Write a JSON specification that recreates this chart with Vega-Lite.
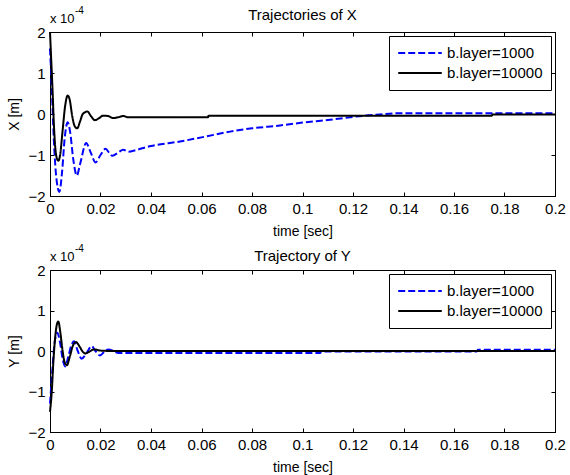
{
  "$schema": "https://vega.github.io/schema/vega-lite/v6.json",
  "padding": {"left": 7, "top": 5, "right": 5, "bottom": 2},
  "config": {
    "font": "Liberation Sans",
    "view": {"stroke": "black", "strokeWidth": 1},
    "axis": {"grid": false, "domainColor": "black", "tickColor": "black", "tickSize": -4, "labelFontSize": 15, "labelColor": "black", "titleFontSize": 14, "titleFontWeight": "normal", "titleColor": "black", "labelPadding": 9, "labelFlush": false, "labelOverlap": false},
    "axisX": {"titlePadding": 8},
    "axisY": {"titlePadding": 6},
    "title": {"fontSize": 15, "fontWeight": "normal", "color": "black", "frame": "group", "offset": -20},
    "legend": {"orient": "top-right", "offset": 4, "strokeColor": "black", "fillColor": "white", "padding": 8, "symbolType": "stroke", "symbolSize": 1900, "symbolStrokeWidth": 2, "labelFontSize": 15, "labelColor": "black", "labelOffset": 4, "clipHeight": 18, "rowPadding": 2, "cornerRadius": 0}
  },
  "datasets": {
    "X": [
      {"s":"b.layer=1000","t":0,"v":1.6},{"s":"b.layer=1000","t":0.0008,"v":0.5},{"s":"b.layer=1000","t":0.0015,"v":-0.6},{"s":"b.layer=1000","t":0.0025,"v":-1.55},{"s":"b.layer=1000","t":0.0037,"v":-1.9},{"s":"b.layer=1000","t":0.0048,"v":-1.4},{"s":"b.layer=1000","t":0.0058,"v":-0.6},{"s":"b.layer=1000","t":0.007,"v":-0.2},{"s":"b.layer=1000","t":0.008,"v":-0.45},{"s":"b.layer=1000","t":0.0092,"v":-1.1},{"s":"b.layer=1000","t":0.0106,"v":-1.5},{"s":"b.layer=1000","t":0.012,"v":-1.2},{"s":"b.layer=1000","t":0.0143,"v":-0.71},{"s":"b.layer=1000","t":0.0162,"v":-0.95},{"s":"b.layer=1000","t":0.018,"v":-1.18},{"s":"b.layer=1000","t":0.02,"v":-1.0},{"s":"b.layer=1000","t":0.022,"v":-0.85},{"s":"b.layer=1000","t":0.0235,"v":-0.95},{"s":"b.layer=1000","t":0.0247,"v":-1.02},{"s":"b.layer=1000","t":0.027,"v":-0.94},{"s":"b.layer=1000","t":0.029,"v":-0.87},{"s":"b.layer=1000","t":0.031,"v":-0.92},{"s":"b.layer=1000","t":0.034,"v":-0.88},{"s":"b.layer=1000","t":0.04,"v":-0.78},{"s":"b.layer=1000","t":0.0515,"v":-0.67},{"s":"b.layer=1000","t":0.06,"v":-0.57},{"s":"b.layer=1000","t":0.0713,"v":-0.43},{"s":"b.layer=1000","t":0.08,"v":-0.35},{"s":"b.layer=1000","t":0.0911,"v":-0.28},{"s":"b.layer=1000","t":0.1,"v":-0.21},{"s":"b.layer=1000","t":0.1109,"v":-0.14},{"s":"b.layer=1000","t":0.12,"v":-0.07},{"s":"b.layer=1000","t":0.1307,"v":-0.01},{"s":"b.layer=1000","t":0.139,"v":0.02},{"s":"b.layer=1000","t":0.2,"v":0.02},
      {"s":"b.layer=10000","t":0,"v":2.0},{"s":"b.layer=10000","t":0.0005,"v":1.3},{"s":"b.layer=10000","t":0.001,"v":0.6},{"s":"b.layer=10000","t":0.0015,"v":-0.2},{"s":"b.layer=10000","t":0.002,"v":-0.75},{"s":"b.layer=10000","t":0.0027,"v":-1.08},{"s":"b.layer=10000","t":0.0033,"v":-1.14},{"s":"b.layer=10000","t":0.004,"v":-1.0},{"s":"b.layer=10000","t":0.005,"v":-0.4},{"s":"b.layer=10000","t":0.006,"v":0.2},{"s":"b.layer=10000","t":0.007,"v":0.45},{"s":"b.layer=10000","t":0.0078,"v":0.35},{"s":"b.layer=10000","t":0.0088,"v":-0.05},{"s":"b.layer=10000","t":0.0098,"v":-0.3},{"s":"b.layer=10000","t":0.0108,"v":-0.35},{"s":"b.layer=10000","t":0.0118,"v":-0.2},{"s":"b.layer=10000","t":0.013,"v":0.0},{"s":"b.layer=10000","t":0.0148,"v":0.06},{"s":"b.layer=10000","t":0.0163,"v":-0.06},{"s":"b.layer=10000","t":0.0178,"v":-0.15},{"s":"b.layer=10000","t":0.0195,"v":-0.1},{"s":"b.layer=10000","t":0.021,"v":-0.04},{"s":"b.layer=10000","t":0.023,"v":-0.05},{"s":"b.layer=10000","t":0.025,"v":-0.1},{"s":"b.layer=10000","t":0.027,"v":-0.08},{"s":"b.layer=10000","t":0.029,"v":-0.05},{"s":"b.layer=10000","t":0.031,"v":-0.08},{"s":"b.layer=10000","t":0.0626,"v":-0.08},{"s":"b.layer=10000","t":0.0628,"v":-0.04},{"s":"b.layer=10000","t":0.175,"v":-0.04},{"s":"b.layer=10000","t":0.1752,"v":-0.01},{"s":"b.layer=10000","t":0.2,"v":-0.01}
    ],
    "Y": [
      {"s":"b.layer=1000","t":0,"v":-1.3},{"s":"b.layer=1000","t":0.0008,"v":-0.6},{"s":"b.layer=1000","t":0.0018,"v":0.2},{"s":"b.layer=1000","t":0.0029,"v":0.45},{"s":"b.layer=1000","t":0.004,"v":0.2},{"s":"b.layer=1000","t":0.005,"v":-0.2},{"s":"b.layer=1000","t":0.006,"v":-0.38},{"s":"b.layer=1000","t":0.0072,"v":-0.15},{"s":"b.layer=1000","t":0.0085,"v":0.15},{"s":"b.layer=1000","t":0.0095,"v":0.24},{"s":"b.layer=1000","t":0.011,"v":0.0},{"s":"b.layer=1000","t":0.0125,"v":-0.19},{"s":"b.layer=1000","t":0.0145,"v":-0.05},{"s":"b.layer=1000","t":0.0165,"v":0.12},{"s":"b.layer=1000","t":0.018,"v":0.0},{"s":"b.layer=1000","t":0.0198,"v":-0.11},{"s":"b.layer=1000","t":0.0215,"v":-0.02},{"s":"b.layer=1000","t":0.023,"v":0.04},{"s":"b.layer=1000","t":0.0255,"v":-0.01},{"s":"b.layer=1000","t":0.027,"v":-0.05},{"s":"b.layer=1000","t":0.107,"v":-0.05},{"s":"b.layer=1000","t":0.1075,"v":-0.01},{"s":"b.layer=1000","t":0.169,"v":-0.01},{"s":"b.layer=1000","t":0.1695,"v":0.03},{"s":"b.layer=1000","t":0.2,"v":0.03},
      {"s":"b.layer=10000","t":0,"v":-1.5},{"s":"b.layer=10000","t":0.0007,"v":-1.0},{"s":"b.layer=10000","t":0.0013,"v":-0.3},{"s":"b.layer=10000","t":0.002,"v":0.3},{"s":"b.layer=10000","t":0.0027,"v":0.65},{"s":"b.layer=10000","t":0.0033,"v":0.73},{"s":"b.layer=10000","t":0.004,"v":0.5},{"s":"b.layer=10000","t":0.005,"v":0.0},{"s":"b.layer=10000","t":0.0058,"v":-0.28},{"s":"b.layer=10000","t":0.0067,"v":-0.35},{"s":"b.layer=10000","t":0.0078,"v":-0.15},{"s":"b.layer=10000","t":0.009,"v":0.12},{"s":"b.layer=10000","t":0.0103,"v":0.22},{"s":"b.layer=10000","t":0.0118,"v":0.1},{"s":"b.layer=10000","t":0.013,"v":-0.02},{"s":"b.layer=10000","t":0.014,"v":-0.06},{"s":"b.layer=10000","t":0.0155,"v":-0.02},{"s":"b.layer=10000","t":0.0175,"v":0.04},{"s":"b.layer=10000","t":0.02,"v":0.01},{"s":"b.layer=10000","t":0.025,"v":0.0},{"s":"b.layer=10000","t":0.2,"v":0.0}
    ]
  },
  "resolve": {"scale": {"color": "independent", "strokeDash": "independent"}},
  "spacing": 4,
  "vconcat": [
    {
      "title": {"text": "Trajectories of X", "offset": -17},
      "width": 505, "height": 164,
      "data": {"name": "X"},
      "resolve": {"axis": {"x": "independent", "y": "independent"}},
      "layer": [
        {
          "mark": {"type": "line", "strokeWidth": 2, "interpolate": "monotone"},
          "encoding": {
            "x": {"field": "t", "type": "quantitative", "scale": {"domain": [0, 0.2], "nice": false}, "axis": {"title": "time [sec]", "values": [0,0.02,0.04,0.06,0.08,0.1,0.12,0.14,0.16,0.18,0.2], "format": "~g"}},
            "y": {"field": "v", "type": "quantitative", "scale": {"domain": [-2, 2], "nice": false}, "axis": {"title": "X [m]", "values": [-2,-1,0,1,2]}},
            "color": {"field": "s", "type": "nominal", "scale": {"domain": ["b.layer=1000","b.layer=10000"], "range": ["#0000ff","#000000"]}, "legend": {"title": null}},
            "strokeDash": {"field": "s", "type": "nominal", "scale": {"domain": ["b.layer=1000","b.layer=10000"], "range": [[7,3],[1,0]]}, "legend": {"title": null}}
          }
        },
        {
          "mark": {"type": "point", "opacity": 0},
          "encoding": {
            "x": {"field": "t", "type": "quantitative", "axis": {"orient": "top", "labels": false, "domain": false, "title": null, "values": [0,0.02,0.04,0.06,0.08,0.1,0.12,0.14,0.16,0.18,0.2]}},
            "y": {"field": "v", "type": "quantitative", "axis": {"orient": "right", "labels": false, "domain": false, "title": null, "values": [-2,-1,0,1,2]}}
          }
        },
        {
          "data": {"values": [{}]},
          "mark": {"type": "text", "align": "left", "baseline": "alphabetic", "dy": -9, "fontSize": 13, "color": "black"},
          "encoding": {"x": {"datum": 0, "type": "quantitative", "axis": null}, "y": {"datum": 2, "type": "quantitative", "axis": null}, "text": {"value": "x 10"}}
        },
        {
          "data": {"values": [{}]},
          "mark": {"type": "text", "align": "left", "baseline": "alphabetic", "dx": 25, "dy": -18, "fontSize": 10, "color": "black"},
          "encoding": {"x": {"datum": 0, "type": "quantitative", "axis": null}, "y": {"datum": 2, "type": "quantitative", "axis": null}, "text": {"value": "-4"}}
        }
      ]
    },
    {
      "title": "Trajectory of Y",
      "width": 505, "height": 162,
      "data": {"name": "Y"},
      "resolve": {"axis": {"x": "independent", "y": "independent"}},
      "layer": [
        {
          "mark": {"type": "line", "strokeWidth": 2, "interpolate": "monotone"},
          "encoding": {
            "x": {"field": "t", "type": "quantitative", "scale": {"domain": [0, 0.2], "nice": false}, "axis": {"title": "time [sec]", "values": [0,0.02,0.04,0.06,0.08,0.1,0.12,0.14,0.16,0.18,0.2], "format": "~g"}},
            "y": {"field": "v", "type": "quantitative", "scale": {"domain": [-2, 2], "nice": false}, "axis": {"title": "Y [m]", "values": [-2,-1,0,1,2]}},
            "color": {"field": "s", "type": "nominal", "scale": {"domain": ["b.layer=1000","b.layer=10000"], "range": ["#0000ff","#000000"]}, "legend": {"title": null}},
            "strokeDash": {"field": "s", "type": "nominal", "scale": {"domain": ["b.layer=1000","b.layer=10000"], "range": [[7,3],[1,0]]}, "legend": {"title": null}}
          }
        },
        {
          "mark": {"type": "point", "opacity": 0},
          "encoding": {
            "x": {"field": "t", "type": "quantitative", "axis": {"orient": "top", "labels": false, "domain": false, "title": null, "values": [0,0.02,0.04,0.06,0.08,0.1,0.12,0.14,0.16,0.18,0.2]}},
            "y": {"field": "v", "type": "quantitative", "axis": {"orient": "right", "labels": false, "domain": false, "title": null, "values": [-2,-1,0,1,2]}}
          }
        },
        {
          "data": {"values": [{}]},
          "mark": {"type": "text", "align": "left", "baseline": "alphabetic", "dy": -9, "fontSize": 13, "color": "black"},
          "encoding": {"x": {"datum": 0, "type": "quantitative", "axis": null}, "y": {"datum": 2, "type": "quantitative", "axis": null}, "text": {"value": "x 10"}}
        },
        {
          "data": {"values": [{}]},
          "mark": {"type": "text", "align": "left", "baseline": "alphabetic", "dx": 25, "dy": -18, "fontSize": 10, "color": "black"},
          "encoding": {"x": {"datum": 0, "type": "quantitative", "axis": null}, "y": {"datum": 2, "type": "quantitative", "axis": null}, "text": {"value": "-4"}}
        }
      ]
    }
  ]
}
